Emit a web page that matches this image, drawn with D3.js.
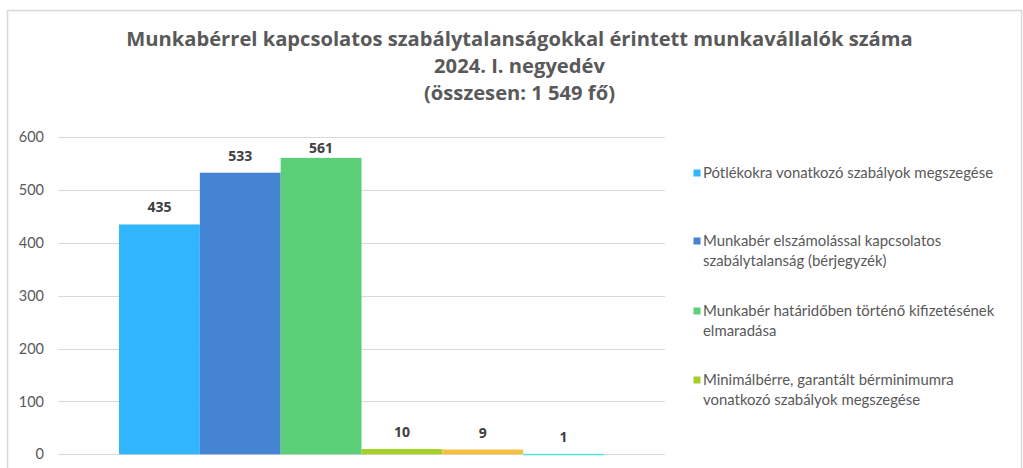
<!DOCTYPE html>
<html>
<head>
<meta charset="utf-8">
<script src="https://cdnjs.cloudflare.com/ajax/libs/d3/7.8.5/d3.min.js"></script>
<style>
  html, body { margin: 0; padding: 0; background: #fff; }
  svg { display: block; }
</style>
</head>
<body>
<div id="viz"></div>
<script>
// chart data
var titleLines = ["Munkabérrel kapcsolatos szabálytalanságokkal érintett munkavállalók száma",
                  "2024. I. negyedév",
                  "(összesen: 1 549 fő)"];
var seriesValues = [435, 533, 561, 10, 9, 1];
var seriesColors = ["#31b6fd", "#4584d3", "#5bd078", "#a5d028", "#f5c040", "#4fe3e6"];
var legendLabels = [
  ["Pótlékokra vonatkozó szabályok megszegése"],
  ["Munkabér elszámolással kapcsolatos", "szabálytalanság (bérjegyzék)"],
  ["Munkabér határidőben történő kifizetésének", "elmaradása"],
  ["Minimálbérre, garantált bérminimumra", "vonatkozó szabályok megszegése"]
];
var yTicks = [0, 100, 200, 300, 400, 500, 600];

var W = 1023, H = 468;
var plot = {left: 58, right: 665, top: 137.3, bottom: 454.3};
var textCol = "#595959";

var svg = d3.select("#viz").append("svg")
  .attr("width", W).attr("height", H);

// outer chart border (cut off at the bottom like the picture)
svg.append("rect")
  .attr("x", 7.5).attr("y", 10.5)
  .attr("width", 1014).attr("height", 500)
  .attr("fill", "#fff").attr("stroke", "#d9d9d9").attr("stroke-width", 1.5);

// helper: returns font size that makes text span the wanted width
function fitSize(sel, width) {
  var len = sel.node().getComputedTextLength();
  var fs = parseFloat(sel.attr("font-size"));
  return +(fs * width / len).toFixed(2);
}

// title
var titleBase = [46, 73, 100];
var titleSize = 20;
titleLines.forEach(function (t, i) {
  var tx = svg.append("text")
    .attr("x", 519.5).attr("y", titleBase[i])
    .attr("text-anchor", "middle")
    .attr("font-family", "'Open Sans', sans-serif")
    .attr("font-weight", "bold")
    .attr("font-size", titleSize)
    .attr("fill", textCol)
    .text(t);
  if (i === 0) { titleSize = fitSize(tx, 787); tx.attr("font-size", titleSize); }
});

var y = d3.scaleLinear().domain([0, 600]).range([plot.bottom, plot.top]);
var x = d3.scaleBand().domain(d3.range(seriesValues.length))
  .range([plot.left, plot.right]).paddingInner(0).paddingOuter(0.755);

// gridlines
svg.append("g").selectAll("line").data(yTicks).enter().append("line")
  .attr("x1", plot.left).attr("x2", plot.right)
  .attr("y1", function (d) { return Math.round(y(d)) + 0.5; })
  .attr("y2", function (d) { return Math.round(y(d)) + 0.5; })
  .attr("stroke", "#d9d9d9").attr("stroke-width", 1);

// y axis labels
var yAxis = d3.axisLeft(y).tickValues(yTicks).tickSize(0).tickPadding(0);
var ya = svg.append("g").attr("transform", "translate(44,0)").call(yAxis);
ya.select(".domain").remove();
ya.selectAll("text")
  .attr("font-family", "Lato, sans-serif")
  .attr("font-size", 14.5)
  .attr("fill", textCol);

// bars
svg.append("g").selectAll("rect").data(seriesValues).enter().append("rect")
  .attr("x", function (d, i) { return x(i); })
  .attr("width", x.bandwidth())
  .attr("y", function (d) { return y(d); })
  .attr("height", function (d) { return Math.max(1.5, y(0) - y(d)); })
  .attr("fill", function (d, i) { return seriesColors[i]; });

// data labels
svg.append("g").selectAll("text").data(seriesValues).enter().append("text")
  .attr("x", function (d, i) { return x(i) + x.bandwidth() / 2; })
  .attr("y", function (d) { return Math.max(y(d) - 17, plot.top + 10.5) + 5; })
  .attr("text-anchor", "middle")
  .attr("font-family", "'Open Sans', sans-serif")
  .attr("font-weight", "bold")
  .attr("font-size", 14)
  .attr("fill", "#404040")
  .text(function (d) { return d; });

// legend
var legTop = [178, 246, 316, 385];
var legSize = 14;
var leg = svg.append("g");
legendLabels.forEach(function (lines, i) {
  leg.append("rect")
    .attr("x", 693.5).attr("y", legTop[i] - 8.5)
    .attr("width", 7).attr("height", 7)
    .attr("fill", seriesColors[i]);
  lines.forEach(function (t, j) {
    var tx = leg.append("text")
      .attr("x", 703).attr("y", legTop[i] + j * 20)
      .attr("font-family", "Lato, sans-serif")
      .attr("font-size", legSize)
      .attr("fill", textCol)
      .text(t);
    if (i === 0 && j === 0) { legSize = fitSize(tx, 290); tx.attr("font-size", legSize); }
  });
});
</script>
</body>
</html>
